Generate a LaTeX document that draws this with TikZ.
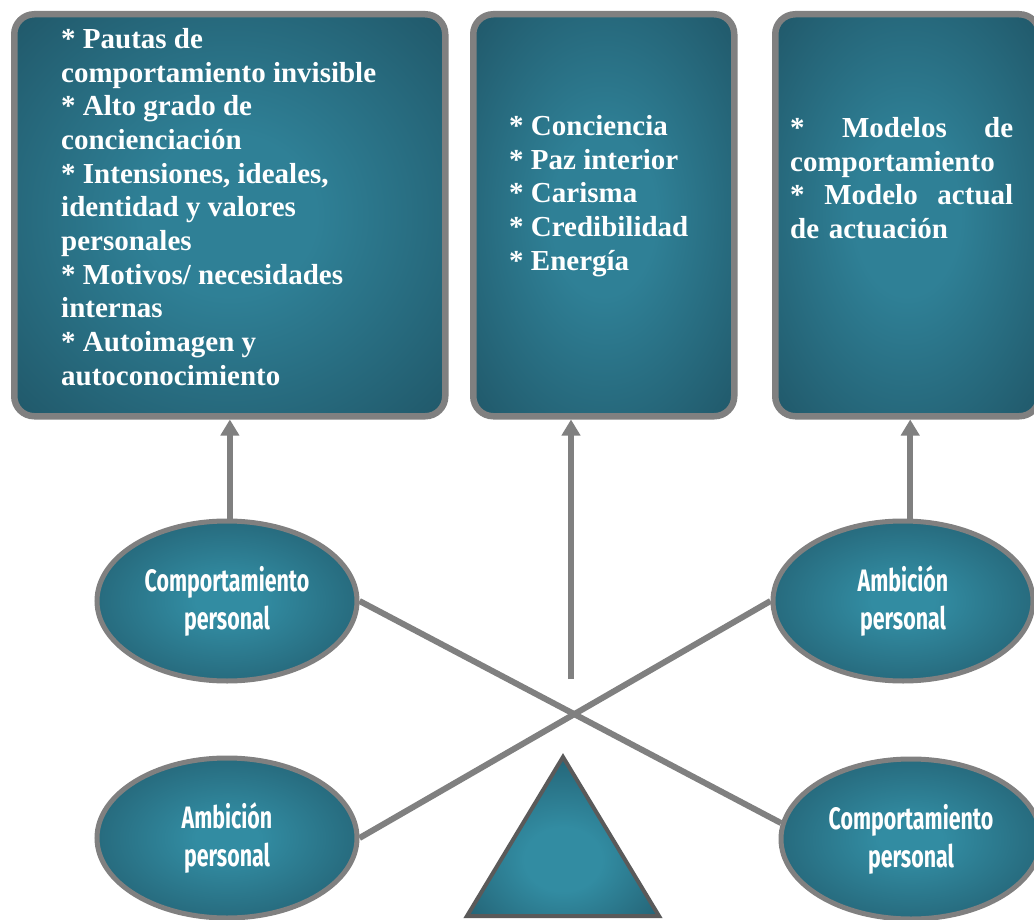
\documentclass[tikz,border=0pt]{standalone}
\usepackage{fontspec}
\setmainfont{Liberation Serif}
\newfontfamily\ovalfont{Fira Sans}
\usetikzlibrary{arrows.meta,shapes.geometric}

\definecolor{boxC}{RGB}{47,128,150}
\definecolor{boxE}{RGB}{31,84,101}
\definecolor{ovalC}{RGB}{50,140,162}
\definecolor{ovalE}{RGB}{28,74,90}
\definecolor{edgegray}{RGB}{128,128,128}
\definecolor{trigray}{RGB}{90,90,90}

\pgfdeclareradialshading{boxshade}{\pgfpoint{0bp}{0bp}}{%
  color(0bp)=(boxC); color(10bp)=(boxC); color(38bp)=(boxE); color(100bp)=(boxE)}
\pgfdeclareradialshading{ovalshade}{\pgfpoint{0bp}{0bp}}{%
  color(0bp)=(ovalC); color(6bp)=(ovalC); color(44bp)=(ovalE); color(100bp)=(ovalE)}
\pgfdeclareradialshading{trishade}{\pgfpoint{0bp}{-8bp}}{%
  color(0bp)=(ovalC); color(10bp)=(ovalC); color(40bp)=(boxE); color(100bp)=(boxE)}

\tikzset{
  panel/.style={draw=edgegray, line width=6.5pt, rounded corners=20pt,
    shading=boxshade, inner sep=0pt, anchor=north west},
  oval/.style={ellipse, draw=edgegray, line width=5pt, shading=ovalshade,
    minimum width=260pt, minimum height=160pt, inner sep=0pt,
    text=white, align=center,
    font=\ovalfont\bfseries\fontsize{31}{38}\selectfont},
  paneltext/.style={text=white, inner sep=0pt, align=left,
    font=\bfseries\fontsize{29}{33.7}\selectfont},
  link/.style={draw=edgegray, line width=6pt},
  uparrow/.style={link, -{Triangle[width=18pt,length=16pt]}},
}
\newcommand{\narrowtext}[1]{\scalebox{0.69}[1]{#1}}

\begin{document}
\begin{tikzpicture}[x=1pt, y=-1pt]
  \useasboundingbox (0,0) rectangle (1034,920);
  \fill[white] (0,0) rectangle (1034,920);
  \clip (0,0) rectangle (1034,920);

  % three panels along the top
  \node[panel, minimum width=431pt, minimum height=402pt] (b1) at (11,11) {};
  \node[panel, minimum width=261pt, minimum height=402pt] (b2) at (470,11) {};
  \node[panel, minimum width=264pt, minimum height=402pt] (b3) at (772,11) {};

  \node[paneltext, anchor=north west] (t1) at (61,28) {%
    {*} Pautas de\\
    comportamiento invisible\\
    {*} Alto grado de\\
    concienciación\\
    {*} Intensiones, ideales,\\
    identidad y valores\\
    personales\\
    {*} Motivos/ necesidades\\
    internas\\
    {*} Autoimagen y\\
    autoconocimiento};

  \node[paneltext, anchor=north west] (t2) at (509,115) {%
    {*} Conciencia\\
    {*} Paz interior\\
    {*} Carisma\\
    {*} Credibilidad\\
    {*} Energía};

  \node[paneltext, anchor=north west, text width=223pt] (t3) at (790,117) {%
    {*}\hfill Modelos\hfill de\\
    comportamiento\\
    {*}\hfill Modelo\hfill actual\\
    de actuación};

  % ovals
  \node[oval] (e1) at (227,601) {\narrowtext{Comportamiento}\\\narrowtext{personal}};
  \node[oval] (e2) at (903,601) {\narrowtext{Ambición}\\\narrowtext{personal}};
  \node[oval] (e3) at (227,838) {\narrowtext{Ambición}\\\narrowtext{personal}};
  \node[oval] (e4) at (911,839) {\narrowtext{Comportamiento}\\\narrowtext{personal}};

  % crossing links
  \draw[link] (e1.east) -- (e4.173);
  \draw[link] (e3.east) -- (e2.west);

  % arrows up into the panels
  \draw[uparrow] (e1.88) -- (e1.88 |- b1.south);
  \coordinate (mid) at (571,679);
  \draw[uparrow] (mid) -- (mid |- b2.south);
  \draw[uparrow] (e2.85) -- (e2.85 |- b3.south);

  % triangle at the bottom
  \draw[draw=trigray, line width=4pt, line join=miter, shading=trishade]
    (563,757) -- (659,916) -- (467,916) -- cycle;
\end{tikzpicture}
\end{document}
